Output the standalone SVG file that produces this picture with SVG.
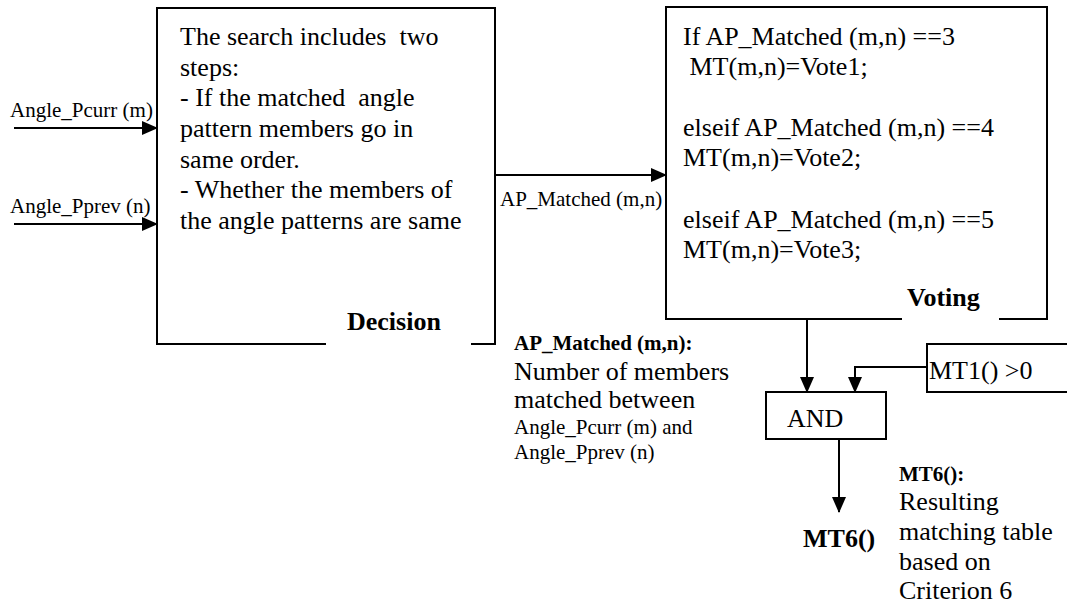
<svg xmlns="http://www.w3.org/2000/svg" width="1067" height="606" viewBox="0 0 1067 606" font-family="'Liberation Serif','Tinos','Times New Roman','DejaVu Serif','Noto Serif',serif">
<style>
text{font-family:"Liberation Serif","Tinos","Times New Roman","DejaVu Serif","Noto Serif",serif;fill:#000;white-space:pre}
.b{font-size:26px}
.s{font-size:21px}
.m{font-size:21px;font-weight:bold}
.h{font-size:26px;font-weight:bold}
.box{fill:#fff;stroke:#000;stroke-width:2}
.ln{fill:none;stroke:#000;stroke-width:2}
</style>
<defs>
<marker id="ah" markerWidth="16" markerHeight="14" refX="15" refY="7" orient="auto" markerUnits="userSpaceOnUse">
<path d="M0,0 L16,7 L0,14 Z" fill="#000"/>
</marker>
</defs>
<rect width="1067" height="606" fill="#fff"/>
<g id="decision">
<rect class="box" x="157" y="8" width="338" height="336"/>
<rect x="326" y="338" width="145" height="8" fill="#fff"/>
<text class="b" x="180" y="45" xml:space="preserve">The search includes  two</text>
<text class="b" x="180" y="76">steps:</text>
<text class="b" x="180" y="106" xml:space="preserve">- If the matched  angle</text>
<text class="b" x="180" y="137">pattern members go in</text>
<text class="b" x="180" y="168">same order.</text>
<text class="b" x="180" y="198">- Whether the members of</text>
<text class="b" x="180" y="229">the angle patterns are same</text>
<text class="h" x="347" y="330">Decision</text>
</g>
<g id="voting">
<rect class="box" x="666" y="7" width="381" height="312"/>
<rect x="902" y="313" width="97" height="8" fill="#fff"/>
<text class="b" x="683" y="45">If AP_Matched (m,n) ==3</text>
<text class="b" x="683" y="75" xml:space="preserve"> MT(m,n)=Vote1;</text>
<text class="b" x="683" y="136">elseif AP_Matched (m,n) ==4</text>
<text class="b" x="683" y="166">MT(m,n)=Vote2;</text>
<text class="b" x="683" y="228">elseif AP_Matched (m,n) ==5</text>
<text class="b" x="683" y="258">MT(m,n)=Vote3;</text>
<text class="h" x="907" y="306">Voting</text>
</g>
<g id="and">
<rect class="box" x="766" y="392" width="120" height="47"/>
<text class="b" x="787" y="427">AND</text>
</g>
<g id="mt1">
<rect class="box" x="927" y="344" width="150" height="48"/>
<text class="b" x="929" y="379">MT1() &gt;0</text>
</g>
<g id="connectors">
<line class="ln" x1="14" y1="128" x2="157" y2="128" marker-end="url(#ah)"/>
<line class="ln" x1="14" y1="224" x2="157" y2="224" marker-end="url(#ah)"/>
<line class="ln" x1="495" y1="175" x2="666" y2="175" marker-end="url(#ah)"/>
<line class="ln" x1="807" y1="319" x2="807" y2="392" marker-end="url(#ah)"/>
<polyline class="ln" points="927,367 855,367 855,392" marker-end="url(#ah)"/>
<line class="ln" x1="839" y1="439" x2="839" y2="512" marker-end="url(#ah)"/>
</g>
<g id="labels">
<text class="s" x="10" y="117">Angle_Pcurr (m)</text>
<text class="s" x="10" y="213">Angle_Pprev (n)</text>
<text class="s" x="500" y="206">AP_Matched (m,n)</text>
<text class="m" x="514" y="350">AP_Matched (m,n):</text>
<text class="b" x="514" y="380">Number of members</text>
<text class="b" x="514" y="408">matched between</text>
<text class="s" x="514" y="434">Angle_Pcurr (m) and</text>
<text class="s" x="514" y="459">Angle_Pprev (n)</text>
<text class="h" x="803" y="547">MT6()</text>
<text class="m" x="899" y="481">MT6():</text>
<text class="b" x="899" y="510">Resulting</text>
<text class="b" x="899" y="540">matching table</text>
<text class="b" x="899" y="570">based on</text>
<text class="b" x="899" y="599">Criterion 6</text>
</g>
</svg>
